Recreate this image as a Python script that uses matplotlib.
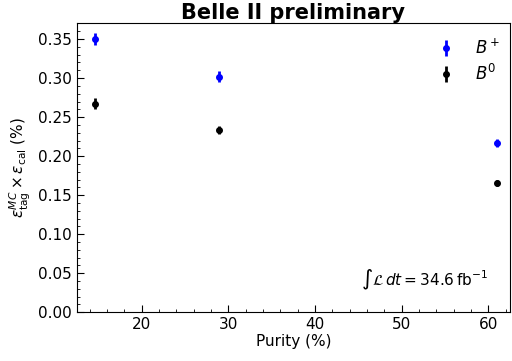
import numpy as np
import matplotlib
matplotlib.use("Agg")
import matplotlib.pyplot as plt
from matplotlib.ticker import AutoMinorLocator

# purity (%) and tag efficiency (%)
purity = [14.6, 28.9, 61.0]
eff_bplus = [0.350, 0.302, 0.217]
err_bplus = [0.008, 0.007, 0.005]
eff_b0 = [0.267, 0.234, 0.166]
err_b0 = [0.007, 0.005, 0.004]

fig, ax = plt.subplots(figsize=(5.12, 3.61), dpi=100)
fig.subplots_adjust(left=0.15, right=0.996, top=0.935, bottom=0.135)

ax.errorbar(purity, eff_bplus, yerr=err_bplus, fmt="o", color="blue",
            markersize=4, elinewidth=2, label=r"$B^+$")
ax.errorbar(purity, eff_b0, yerr=err_b0, fmt="o", color="black",
            markersize=4, elinewidth=2, label=r"$B^0$")

ax.set_xlim(12.5, 62.5)
ax.set_ylim(0, 0.37)
ax.set_yticks(np.arange(0, 0.36, 0.05))
ax.xaxis.set_minor_locator(AutoMinorLocator(5))
ax.yaxis.set_minor_locator(AutoMinorLocator(5))
ax.tick_params(which="both", direction="in", labelsize=11)
ax.tick_params(which="major", length=5)
ax.tick_params(which="minor", length=2.5)

ax.set_xlabel("Purity (%)", fontsize=11, labelpad=1)
ax.set_ylabel(r"$\epsilon_{\rm tag}^{MC} \times \epsilon_{\rm cal}$ (%)", fontsize=11)
ax.set_title("Belle II preliminary", fontsize=15, fontweight="bold", pad=3)

ax.legend(loc="upper right", bbox_to_anchor=(1.0, 0.982), frameon=False,
          fontsize=12, handletextpad=0.9, handlelength=1.6,
          borderaxespad=0.2, labelspacing=0.35)
ax.text(0.95, 0.07, r"$\int\mathcal{L}\,dt = 34.6\,\mathrm{fb}^{-1}$",
        transform=ax.transAxes, ha="right", va="bottom", fontsize=11)

fig.savefig("out.png", dpi=100)
